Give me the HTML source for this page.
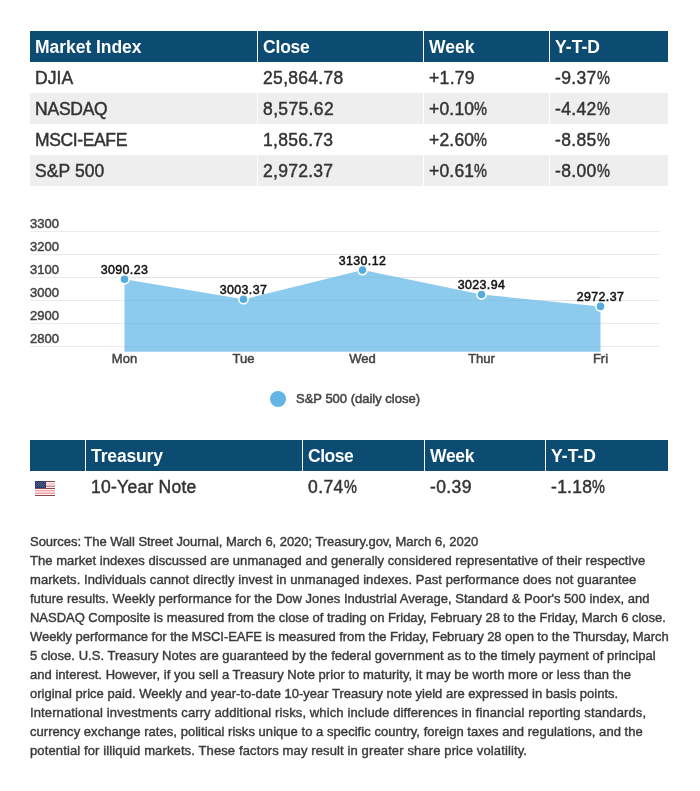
<!DOCTYPE html>
<html lang="en"><head><meta charset="utf-8"><title>Market Index</title>
<style>
html,body{margin:0;padding:0;background:#fff;}
body{width:700px;height:791px;position:relative;overflow:hidden;font-family:"Liberation Sans",Arial,sans-serif;color:#333333;}
.c{position:absolute;box-sizing:border-box;padding-left:5.1px;white-space:nowrap;font-size:17.5px;line-height:31px;height:31px;overflow:hidden;padding-top:1.2px;}
.h{background:#0c4b72;color:#fff;font-weight:bold;}
.g{background:#eeeeee;}
.pc{display:inline-block;transform:scaleX(.83);transform-origin:0 0;letter-spacing:0;margin-left:0.3px;}
.b{-webkit-text-stroke:0.45px #333;}
.p{position:absolute;left:30px;white-space:nowrap;font-size:13px;line-height:19px;height:19px;color:#3a3a3a;-webkit-text-stroke:0.4px #3a3a3a;}
svg{position:absolute;left:0;top:0;}
svg text{white-space:pre;}
</style></head><body>

<div class="c h" id="h1_0" style="left:30px;top:31px;width:227px;letter-spacing:-0.055px;">Market Index</div>
<div class="c h" id="h1_1" style="left:258px;top:31px;width:165px;letter-spacing:-0.225px;">Close</div>
<div class="c h" id="h1_2" style="left:424px;top:31px;width:125px;letter-spacing:-0.032px;">Week</div>
<div class="c h" id="h1_3" style="left:550px;top:31px;width:118px;letter-spacing:0.025px;">Y-T-D</div>
<div class="c b" id="r0_0" style="left:30px;top:62px;width:227px;letter-spacing:0.032px;">DJIA</div>
<div class="c b" id="r0_1" style="left:258px;top:62px;width:165px;letter-spacing:0.289px;">25,864.78</div>
<div class="c b" id="r0_2" style="left:424px;top:62px;width:125px;letter-spacing:0.300px;">+1.79</div>
<div class="c b" id="r0_3" style="left:550px;top:62px;width:118px;letter-spacing:0.320px;">-9.37<span class="pc">%</span></div>
<div class="c b g" id="r1_0" style="left:30px;top:93px;width:227px;letter-spacing:-0.260px;">NASDAQ</div>
<div class="c b g" id="r1_1" style="left:258px;top:93px;width:165px;letter-spacing:0.342px;">8,575.62</div>
<div class="c b g" id="r1_2" style="left:424px;top:93px;width:125px;letter-spacing:0.160px;">+0.10<span class="pc">%</span></div>
<div class="c b g" id="r1_3" style="left:550px;top:93px;width:118px;letter-spacing:0.320px;">-4.42<span class="pc">%</span></div>
<div class="c b" id="r2_0" style="left:30px;top:124px;width:227px;letter-spacing:-0.385px;">MSCI-EAFE</div>
<div class="c b" id="r2_1" style="left:258px;top:124px;width:165px;letter-spacing:0.258px;">1,856.73</div>
<div class="c b" id="r2_2" style="left:424px;top:124px;width:125px;letter-spacing:0.160px;">+2.60<span class="pc">%</span></div>
<div class="c b" id="r2_3" style="left:550px;top:124px;width:118px;letter-spacing:0.320px;">-8.85<span class="pc">%</span></div>
<div class="c b g" id="r3_0" style="left:30px;top:155px;width:227px;letter-spacing:0.083px;">S&amp;P 500</div>
<div class="c b g" id="r3_1" style="left:258px;top:155px;width:165px;letter-spacing:0.258px;">2,972.37</div>
<div class="c b g" id="r3_2" style="left:424px;top:155px;width:125px;letter-spacing:0.160px;">+0.61<span class="pc">%</span></div>
<div class="c b g" id="r3_3" style="left:550px;top:155px;width:118px;letter-spacing:0.320px;">-8.00<span class="pc">%</span></div>
<svg width="700" height="791" viewBox="0 0 700 791" font-family="Liberation Sans, Arial, sans-serif">
<line x1="30" x2="660" y1="231.5" y2="231.5" stroke="#ebebeb" stroke-width="1"/>
<line x1="30" x2="660" y1="254.5" y2="254.5" stroke="#ebebeb" stroke-width="1"/>
<line x1="30" x2="660" y1="277.5" y2="277.5" stroke="#ebebeb" stroke-width="1"/>
<line x1="30" x2="660" y1="300.5" y2="300.5" stroke="#ebebeb" stroke-width="1"/>
<line x1="30" x2="660" y1="323.5" y2="323.5" stroke="#ebebeb" stroke-width="1"/>
<line x1="30" x2="660" y1="346.5" y2="346.5" stroke="#ebebeb" stroke-width="1"/>
<polygon points="124.5,351.7 124.5,279.2 243.5,299.2 362.5,270.1 481.5,294.5 600.5,306.4 600.5,351.7" fill="#8ccbee"/>
<line x1="124.5" x2="600.5" y1="277.5" y2="277.5" stroke="#000" stroke-opacity="0.035" stroke-width="1"/>
<line x1="124.5" x2="600.5" y1="300.5" y2="300.5" stroke="#000" stroke-opacity="0.035" stroke-width="1"/>
<line x1="124.5" x2="600.5" y1="323.5" y2="323.5" stroke="#000" stroke-opacity="0.035" stroke-width="1"/>
<line x1="124.5" x2="600.5" y1="346.5" y2="346.5" stroke="#000" stroke-opacity="0.035" stroke-width="1"/>
<circle cx="124.5" cy="279.2" r="4.6" fill="#57acdf" stroke="#fff" stroke-width="1.6"/>
<circle cx="243.5" cy="299.2" r="4.6" fill="#57acdf" stroke="#fff" stroke-width="1.6"/>
<circle cx="362.5" cy="270.1" r="4.6" fill="#57acdf" stroke="#fff" stroke-width="1.6"/>
<circle cx="481.5" cy="294.5" r="4.6" fill="#57acdf" stroke="#fff" stroke-width="1.6"/>
<circle cx="600.5" cy="306.4" r="4.6" fill="#57acdf" stroke="#fff" stroke-width="1.6"/>
<text x="30" y="228.0" font-size="13" fill="#444" stroke="#444" stroke-width="0.5" style="">3300</text>
<text x="30" y="251.0" font-size="13" fill="#444" stroke="#444" stroke-width="0.5" style="">3200</text>
<text x="30" y="274.0" font-size="13" fill="#444" stroke="#444" stroke-width="0.5" style="">3100</text>
<text x="30" y="297.0" font-size="13" fill="#444" stroke="#444" stroke-width="0.5" style="">3000</text>
<text x="30" y="320.0" font-size="13" fill="#444" stroke="#444" stroke-width="0.5" style="">2900</text>
<text x="30" y="343.0" font-size="13" fill="#444" stroke="#444" stroke-width="0.5" style="">2800</text>
<text x="124.5" y="273.6" font-size="12.4" text-anchor="middle" fill="#111" stroke="#111" stroke-width="0.5" style="letter-spacing:0.42px">3090.23</text>
<text x="243.5" y="293.6" font-size="12.4" text-anchor="middle" fill="#111" stroke="#111" stroke-width="0.5" style="letter-spacing:0.42px">3003.37</text>
<text x="362.5" y="264.5" font-size="12.4" text-anchor="middle" fill="#111" stroke="#111" stroke-width="0.5" style="letter-spacing:0.42px">3130.12</text>
<text x="481.5" y="288.9" font-size="12.4" text-anchor="middle" fill="#111" stroke="#111" stroke-width="0.5" style="letter-spacing:0.42px">3023.94</text>
<text x="600.5" y="300.8" font-size="12.4" text-anchor="middle" fill="#111" stroke="#111" stroke-width="0.5" style="letter-spacing:0.42px">2972.37</text>
<text x="124.5" y="363.1" font-size="13" text-anchor="middle" fill="#444" stroke="#444" stroke-width="0.5">Mon</text>
<text x="243.5" y="363.1" font-size="13" text-anchor="middle" fill="#444" stroke="#444" stroke-width="0.5">Tue</text>
<text x="362.5" y="363.1" font-size="13" text-anchor="middle" fill="#444" stroke="#444" stroke-width="0.5">Wed</text>
<text x="481.5" y="363.1" font-size="13" text-anchor="middle" fill="#444" stroke="#444" stroke-width="0.5">Thur</text>
<text x="600.5" y="363.1" font-size="13" text-anchor="middle" fill="#444" stroke="#444" stroke-width="0.5">Fri</text>
<circle cx="278" cy="399" r="8" fill="#62b5e5"/>
<text x="296" y="402.7" font-size="13" fill="#444" stroke="#444" stroke-width="0.5" style="">S&amp;P 500 (daily close)</text>
</svg>
<div class="c h" id="h2_0" style="left:30px;top:440px;width:55px;"></div>
<div class="c h" id="h2_1" style="left:86px;top:440px;width:216px;letter-spacing:-0.157px;">Treasury</div>
<div class="c h" id="h2_2" style="left:303px;top:440px;width:121px;letter-spacing:-0.525px;">Close</div>
<div class="c h" id="h2_3" style="left:425px;top:440px;width:120px;letter-spacing:-0.366px;">Week</div>
<div class="c h" id="h2_4" style="left:546px;top:440px;width:122px;letter-spacing:0.025px;">Y-T-D</div>
<div class="c b" id="t_1" style="left:86px;top:471px;width:216px;letter-spacing:0.244px;">10-Year Note</div>
<div class="c b" id="t_2" style="left:303px;top:471px;width:121px;letter-spacing:0.400px;">0.74<span class="pc">%</span></div>
<div class="c b" id="t_3" style="left:425px;top:471px;width:120px;letter-spacing:0.350px;">-0.39</div>
<div class="c b" id="t_4" style="left:546px;top:471px;width:122px;letter-spacing:0.220px;">-1.18<span class="pc">%</span></div>
<svg width="20" height="15" viewBox="0 0 20 15" style="left:35px;top:481px" shape-rendering="crispEdges">
<rect width="20" height="15" fill="#fff"/>
<rect x="0" y="0" width="20" height="1" fill="#8a4547"/>
<rect x="0" y="1" width="20" height="1" fill="#fbeeee"/>
<rect x="0" y="2" width="20" height="1" fill="#f4c3c7"/>
<rect x="0" y="3" width="20" height="1" fill="#fadfe1"/>
<rect x="0" y="4" width="20" height="1" fill="#f0b4b9"/>
<rect x="0" y="5" width="20" height="1" fill="#d88a90"/>
<rect x="0" y="6" width="20" height="1" fill="#fbeeee"/>
<rect x="0" y="7" width="20" height="1" fill="#8d484b"/>
<rect x="0" y="8" width="20" height="1" fill="#fdf3f3"/>
<rect x="0" y="9" width="20" height="1" fill="#eda6ac"/>
<rect x="0" y="10" width="20" height="1" fill="#f8d6d9"/>
<rect x="0" y="11" width="20" height="1" fill="#f6cdd0"/>
<rect x="0" y="12" width="20" height="1" fill="#ea9ea5"/>
<rect x="0" y="13" width="20" height="1" fill="#fdf3f3"/>
<rect x="0" y="14" width="20" height="1" fill="#8a4547"/>
<rect width="11" height="7" fill="#2e3c69"/>
<rect x="1" y="1" width="1" height="1" fill="#4f5d8c"/>
<rect x="3" y="1" width="1" height="1" fill="#4f5d8c"/>
<rect x="5" y="1" width="1" height="1" fill="#4f5d8c"/>
<rect x="7" y="1" width="1" height="1" fill="#4f5d8c"/>
<rect x="9" y="1" width="1" height="1" fill="#4f5d8c"/>
<rect x="1" y="3" width="1" height="1" fill="#4f5d8c"/>
<rect x="3" y="3" width="1" height="1" fill="#4f5d8c"/>
<rect x="5" y="3" width="1" height="1" fill="#4f5d8c"/>
<rect x="7" y="3" width="1" height="1" fill="#4f5d8c"/>
<rect x="9" y="3" width="1" height="1" fill="#4f5d8c"/>
<rect x="1" y="5" width="1" height="1" fill="#4f5d8c"/>
<rect x="3" y="5" width="1" height="1" fill="#4f5d8c"/>
<rect x="5" y="5" width="1" height="1" fill="#4f5d8c"/>
<rect x="7" y="5" width="1" height="1" fill="#4f5d8c"/>
<rect x="9" y="5" width="1" height="1" fill="#4f5d8c"/>
<rect x="2" y="2" width="1" height="1" fill="#4a5885"/>
<rect x="4" y="2" width="1" height="1" fill="#4a5885"/>
<rect x="6" y="2" width="1" height="1" fill="#4a5885"/>
<rect x="8" y="2" width="1" height="1" fill="#4a5885"/>
<rect x="2" y="4" width="1" height="1" fill="#4a5885"/>
<rect x="4" y="4" width="1" height="1" fill="#4a5885"/>
<rect x="6" y="4" width="1" height="1" fill="#4a5885"/>
<rect x="8" y="4" width="1" height="1" fill="#4a5885"/>
</svg>
<div class="p" id="l0" style="top:532.00px;letter-spacing:-0.040px;">Sources: The Wall Street Journal, March 6, 2020; Treasury.gov, March 6, 2020</div>
<div class="p" id="l1" style="top:550.97px;letter-spacing:0.038px;">The market indexes discussed are unmanaged and generally considered representative of their respective</div>
<div class="p" id="l2" style="top:569.94px;letter-spacing:0.064px;">markets. Individuals cannot directly invest in unmanaged indexes. Past performance does not guarantee</div>
<div class="p" id="l3" style="top:588.91px;letter-spacing:0.011px;">future results. Weekly performance for the Dow Jones Industrial Average, Standard &amp; Poor's 500 index, and</div>
<div class="p" id="l4" style="top:607.88px;letter-spacing:-0.030px;">NASDAQ Composite is measured from the close of trading on Friday, February 28 to the Friday, March 6 close.</div>
<div class="p" id="l5" style="top:626.85px;letter-spacing:-0.053px;">Weekly performance for the MSCI-EAFE is measured from the Friday, February 28 open to the Thursday, March</div>
<div class="p" id="l6" style="top:645.82px;letter-spacing:0.026px;">5 close. U.S. Treasury Notes are guaranteed by the federal government as to the timely payment of principal</div>
<div class="p" id="l7" style="top:664.79px;letter-spacing:0.034px;">and interest. However, if you sell a Treasury Note prior to maturity, it may be worth more or less than the</div>
<div class="p" id="l8" style="top:683.76px;letter-spacing:0.009px;">original price paid. Weekly and year-to-date 10-year Treasury note yield are expressed in basis points.</div>
<div class="p" id="l9" style="top:702.73px;letter-spacing:0.120px;">International investments carry additional risks, which include differences in financial reporting standards,</div>
<div class="p" id="l10" style="top:721.70px;letter-spacing:0.042px;">currency exchange rates, political risks unique to a specific country, foreign taxes and regulations, and the</div>
<div class="p" id="l11" style="top:740.67px;letter-spacing:0.124px;">potential for illiquid markets. These factors may result in greater share price volatility.</div>
</body></html>
